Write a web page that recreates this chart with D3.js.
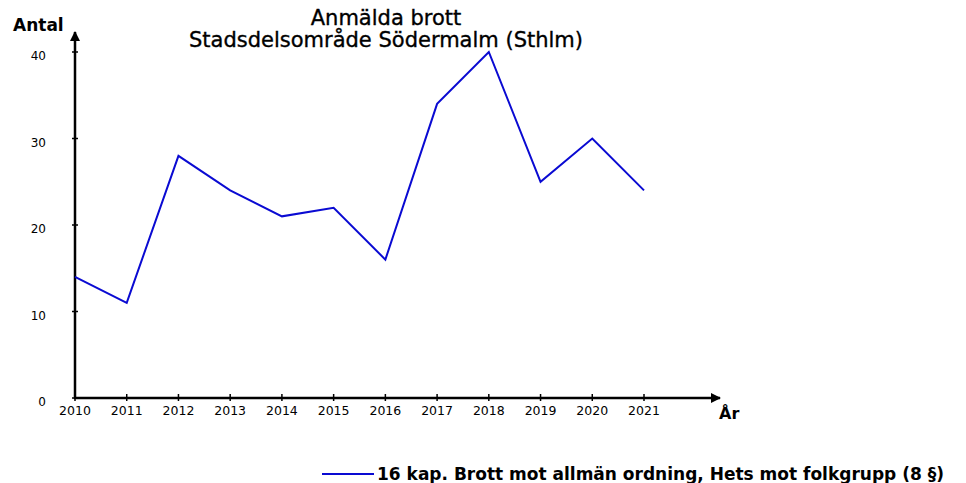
<!DOCTYPE html>
<html>
<head>
<meta charset="utf-8">
<script src="https://cdn.jsdelivr.net/npm/d3@7"></script>
<style>
  body { margin: 0; background: #fff; }
  text { font-family: "DejaVu Sans", Verdana, sans-serif; }
</style>
</head>
<body>
<svg id="viz"></svg>
<script>

	// the data
	var years = [2010, 2011, 2012, 2013, 2014, 2015, 2016, 2017, 2018, 2019, 2020, 2021];
	var counts = [14, 11, 28, 24, 21, 22, 16, 34, 40, 25, 30, 24];
	var yTicks = [0, 10, 20, 30, 40];
	var seriesName = "16 kap. Brott mot allmän ordning, Hets mot folkgrupp (8 §)";



	// set up the svg
	var w = 966;
	var h = 483;
	var viz = d3.select("#viz").attr("width", w).attr("height", h);

	var x = d3.scaleLinear().domain([2010, 2021]).range([75, 644]);
	var y = d3.scaleLinear().domain([0, 40]).range([398, 52]);



	// title
	viz.append("text")
		.attr("x", 386).attr("y", 25)
		.attr("text-anchor", "middle")
		.attr("font-size", 21)
		.attr("stroke", "#000").attr("stroke-width", 0.35)
		.text("Anmälda brott");
	viz.append("text")
		.attr("x", 386).attr("y", 47)
		.attr("text-anchor", "middle")
		.attr("font-size", 21)
		.attr("stroke", "#000").attr("stroke-width", 0.35)
		.text("Stadsdelsområde Södermalm (Sthlm)");

	viz.append("text")
		.attr("x", 13).attr("y", 31)
		.attr("font-size", 17).attr("font-weight", "bold")
		.text("Antal");
	viz.append("text")
		.attr("x", 719).attr("y", 419)
		.attr("font-size", 16).attr("font-weight", "bold")
		.text("År");



	// axes with arrows
	viz.append("defs").append("marker")
		.attr("id", "arrow")
		.attr("viewBox", "0 0 10 10")
		.attr("refX", 9).attr("refY", 5)
		.attr("markerWidth", 4).attr("markerHeight", 4)
		.attr("orient", "auto")
		.append("path")
		.attr("d", "M0,0 L10,5 L0,10 z")
		.attr("fill", "#000");

	viz.append("line")
		.attr("x1", x(2010)).attr("x2", x(2010))
		.attr("y1", y(0) + 1).attr("y2", 32)
		.attr("stroke", "#000").attr("stroke-width", 2.5)
		.attr("marker-end", "url(#arrow)");
	viz.append("line")
		.attr("x1", x(2010) - 1).attr("x2", 720)
		.attr("y1", y(0)).attr("y2", y(0))
		.attr("stroke", "#000").attr("stroke-width", 2.5)
		.attr("marker-end", "url(#arrow)");

	// y ticks
	viz.selectAll("line.ytick")
		.data(yTicks)
		.enter()
		.append("line")
		.attr("class", "ytick")
		.attr("x1", x(2010) - 3).attr("x2", x(2010) + 3)
		.attr("y1", function(d) { return y(d); })
		.attr("y2", function(d) { return y(d); })
		.attr("stroke", "#000").attr("stroke-width", 1.5);
	viz.selectAll("text.ylab")
		.data(yTicks)
		.enter()
		.append("text")
		.attr("class", "ylab")
		.attr("x", 46)
		.attr("y", function(d) { return y(d) + 8; })
		.attr("text-anchor", "end")
		.attr("font-size", 12)
		.text(function(d) { return d; });

	// x ticks
	viz.selectAll("line.xtick")
		.data(years)
		.enter()
		.append("line")
		.attr("class", "xtick")
		.attr("x1", function(d) { return x(d); })
		.attr("x2", function(d) { return x(d); })
		.attr("y1", y(0) - 4).attr("y2", y(0) + 3)
		.attr("stroke", "#000").attr("stroke-width", 1.5);
	viz.selectAll("text.xlab")
		.data(years)
		.enter()
		.append("text")
		.attr("class", "xlab")
		.attr("x", function(d) { return x(d); })
		.attr("y", 415)
		.attr("text-anchor", "middle")
		.attr("font-size", 12.5)
		.text(function(d) { return d; });



	// the line
	var line = d3.line()
		.x(function(d, i) { return x(years[i]); })
		.y(function(d) { return y(d); });
	viz.append("path")
		.datum(counts)
		.attr("d", line)
		.attr("fill", "none")
		.attr("stroke", "#0a0ad2")
		.attr("stroke-width", 2);



	// legend
	viz.append("line")
		.attr("x1", 322).attr("x2", 374)
		.attr("y1", 474).attr("y2", 474)
		.attr("stroke", "#0a0ad2").attr("stroke-width", 2);
	viz.append("text")
		.attr("x", 377).attr("y", 480)
		.attr("font-size", 17).attr("font-weight", "bold")
		.text(seriesName);

</script>
</body>
</html>
